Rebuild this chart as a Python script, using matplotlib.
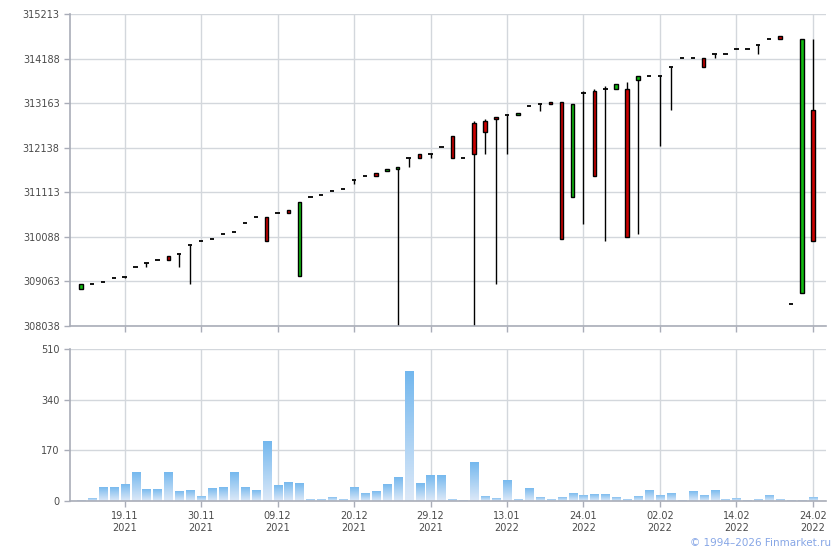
import numpy as np
import matplotlib
matplotlib.use('Agg')
import matplotlib.pyplot as plt
from matplotlib.colors import LinearSegmentedColormap

# daily candles, 15.11.2021 .. 24.02.2022 (trading-day index)
opens = [308879, 309003, 309049, 309141, 309171, 309394, 309477, 309562, 309638, 309693,
         309900, 309992, 310038, 310153, 310199, 310406, 310544, 310544, 310636, 310712,
         309187, 311004, 311050, 311142, 311188, 311395, 311487, 311563, 311593, 311639,
         311901, 311984, 311993, 312154, 312407, 311901, 312713, 312752, 312844, 312897,
         312890, 313100, 313150, 313189, 313189, 311004, 313396, 313442, 313488, 313488,
         313488, 313686, 313787, 313787, 313994, 314201, 314201, 314201, 314293, 314293,
         314408, 314408, 314500, 314638, 314707, 308543, 308796, 313005]
highs = [309003, 309003, 309049, 309141, 309171, 309394, 309477, 309562, 309638, 309693,
         309900, 309992, 310038, 310153, 310199, 310406, 310544, 310544, 310636, 310712,
         310889, 311004, 311050, 311142, 311188, 311395, 311487, 311563, 311648, 311694,
         311901, 311984, 311993, 312154, 312407, 311901, 312752, 312805, 312844, 312897,
         312936, 313100, 313150, 313189, 313189, 313143, 313449, 313488, 313564, 313603,
         313649, 313787, 313787, 313787, 313994, 314201, 314201, 314201, 314293, 314293,
         314408, 314408, 314500, 314638, 314707, 308543, 314638, 314638]
lows = [308879, 309003, 309049, 309141, 309132, 309394, 309394, 309562, 309555, 309394,
        308994, 309992, 310038, 310153, 310199, 310406, 310544, 309983, 310636, 310627,
        309187, 311004, 311050, 311142, 311188, 311303, 311487, 311478, 311593, 308040,
        311685, 311901, 311892, 312154, 311892, 311901, 308038, 311993, 309003, 311993,
        312890, 313100, 312982, 313143, 310038, 311004, 310390, 311478, 309983, 313488,
        310084, 310143, 313787, 312184, 312996, 314201, 314201, 313985, 314201, 314293,
        314408, 314408, 314293, 314638, 314638, 308543, 308796, 309983]
closes = [309003, 309003, 309049, 309141, 309171, 309394, 309477, 309562, 309555, 309693,
          309900, 309992, 310038, 310153, 310199, 310406, 310544, 309983, 310636, 310627,
          310889, 311004, 311050, 311142, 311188, 311395, 311487, 311478, 311648, 311694,
          311901, 311901, 311993, 312154, 311892, 311901, 311993, 312499, 312789, 312897,
          312936, 313100, 313150, 313143, 310038, 313143, 313396, 311478, 313488, 313603,
          310084, 313787, 313787, 313787, 313994, 314201, 314201, 313985, 314293, 314293,
          314408, 314408, 314500, 314638, 314638, 308543, 314638, 309983]
volumes = [4.5, 11, 48, 48, 58, 98, 41, 41, 98, 35, 38, 18, 45, 48, 98, 48, 38, 202,
           55, 65, 62, 8, 8, 15, 8, 48, 28, 35, 58, 82, 437, 62, 88, 88, 8, 4.5, 132,
           18, 11, 72, 8, 45, 15, 8, 15, 28, 21, 25, 25, 15, 8, 18, 38, 21, 28, 4.5,
           35, 21, 38, 8, 11, 4.5, 8, 21, 8, 4.5, 4.5, 15]

tick_pos = [4, 11, 18, 25, 32, 39, 46, 53, 60, 67]
tick_labels = ['19.11\n2021', '30.11\n2021', '09.12\n2021', '20.12\n2021', '29.12\n2021',
               '13.01\n2022', '24.01\n2022', '02.02\n2022', '14.02\n2022', '24.02\n2022']
price_ticks = [308038, 309063, 310088, 311113, 312138, 313163, 314188, 315213]
vol_ticks = [0, 170, 340, 510]

grid_c = '#d3d7dc'
spine_c = '#a9adb8'
text_c = '#4a4a4a'

fig = plt.figure(figsize=(8.4, 5.5), dpi=100)
W, H = 840, 550
ax = fig.add_axes([70 / W, (H - 326) / H, 756 / W, 312 / H])
axv = fig.add_axes([70 / W, (H - 501) / H, 756 / W, 152 / H])

x = np.arange(len(opens))

for a in (ax, axv):
    a.set_xlim(-1.0, 68.2)
    for s in ('top', 'right'):
        a.spines[s].set_visible(False)
    for s in ('left', 'bottom'):
        a.spines[s].set_color(spine_c)
        a.spines[s].set_linewidth(1.2)
    a.set_xticks(tick_pos)
    a.grid(True, color=grid_c, linewidth=1)
    a.set_axisbelow(True)
    a.tick_params(colors=spine_c, labelcolor=text_c, labelsize=7, length=4, width=1)

# candles
o = np.array(opens); c = np.array(closes); h = np.array(highs); l = np.array(lows)
ax.vlines(x, l, h, color='black', linewidth=1, zorder=2)
flat = o == c
ax.hlines(o[flat], x[flat] - 0.2, x[flat] + 0.2, color='black', linewidth=1.3, zorder=3)
body = ~flat
cols = np.where(c[body] > o[body], '#11bb11', '#cc0000')
ax.bar(x[body], c[body] - o[body], bottom=o[body], width=0.32, color=cols,
       edgecolor='black', linewidth=1, zorder=3)
ax.set_ylim(308038, 315213)
ax.set_yticks(price_ticks)
ax.set_yticklabels([str(v) for v in price_ticks])
ax.set_xticklabels([])

# volume bars with vertical gradient
cmap = LinearSegmentedColormap.from_list('vol', ['#dde9f8', '#72b7ee'])
grad = np.linspace(0, 1, 100).reshape(-1, 1)
bars = axv.bar(x, volumes, width=0.74, color='none', edgecolor='none', zorder=2)
for p in bars.patches:
    x0, w, hh = p.get_x(), p.get_width(), p.get_height()
    im = axv.imshow(grad, extent=[x0, x0 + w, 0, hh], origin='lower', cmap=cmap,
                    aspect='auto', zorder=2)
    im.set_clip_path(p)
axv.set_xlim(-1.0, 68.2)
axv.set_ylim(0, 510)
axv.set_yticks(vol_ticks)
axv.set_xticklabels(tick_labels, linespacing=1.25)

fig.text(831 / W, 1 - 543 / H, '\u00a9 1994\u20132026 Finmarket.ru', ha='right', va='center',
         fontsize=7.5, color='#86a6e6')

fig.savefig('out.png', dpi=100)
